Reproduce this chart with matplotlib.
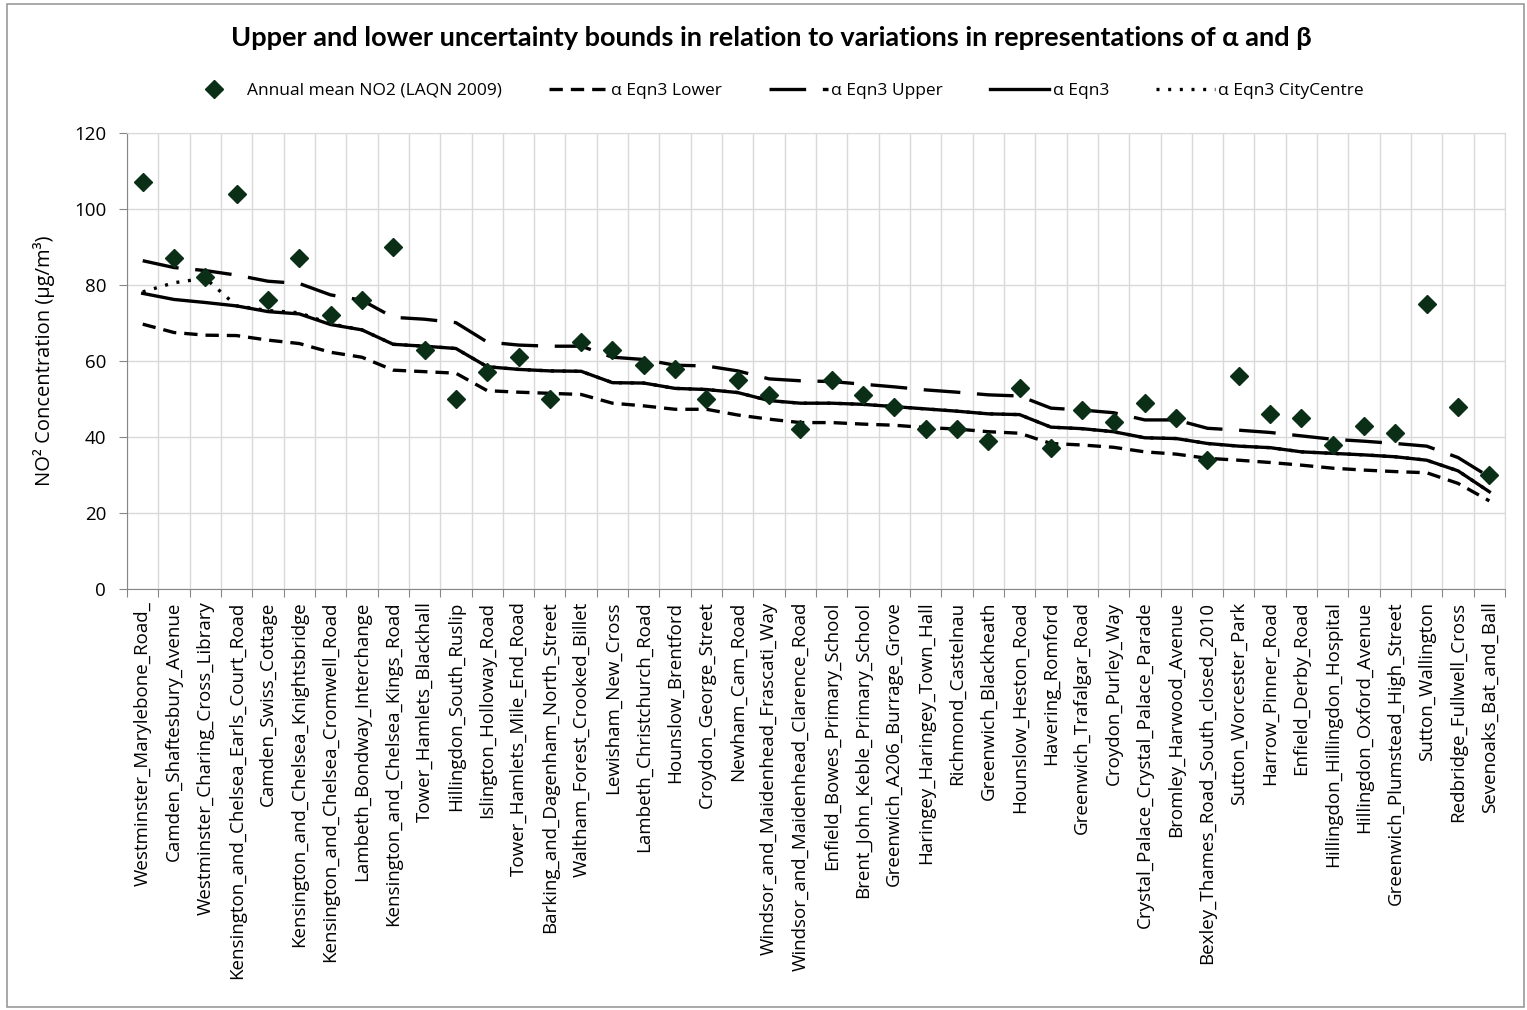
import numpy as np
import matplotlib.pyplot as plt
from matplotlib.patches import Rectangle

sites = [
    "Westminster_Marylebone_Road_", "Camden_Shaftesbury_Avenue",
    "Westminster_Charing_Cross_Library", "Kensington_and_Chelsea_Earls_Court_Road",
    "Camden_Swiss_Cottage", "Kensington_and_Chelsea_Knightsbridge",
    "Kensington_and_Chelsea_Cromwell_Road", "Lambeth_Bondway_Interchange",
    "Kensington_and_Chelsea_Kings_Road", "Tower_Hamlets_Blackhall",
    "Hillingdon_South_Ruslip", "Islington_Holloway_Road",
    "Tower_Hamlets_Mile_End_Road", "Barking_and_Dagenham_North_Street",
    "Waltham_Forest_Crooked_Billet", "Lewisham_New_Cross",
    "Lambeth_Christchurch_Road", "Hounslow_Brentford",
    "Croydon_George_Street", "Newham_Cam_Road",
    "Windsor_and_Maidenhead_Frascati_Way", "Windsor_and_Maidenhead_Clarence_Road",
    "Enfield_Bowes_Primary_School", "Brent_John_Keble_Primary_School",
    "Greenwich_A206_Burrage_Grove", "Haringey_Haringey_Town_Hall",
    "Richmond_Castelnau", "Greenwich_Blackheath",
    "Hounslow_Heston_Road", "Havering_Romford",
    "Greenwich_Trafalgar_Road", "Croydon_Purley_Way",
    "Crystal_Palace_Crystal_Palace_Parade", "Bromley_Harwood_Avenue",
    "Bexley_Thames_Road_South_closed_2010", "Sutton_Worcester_Park",
    "Harrow_Pinner_Road", "Enfield_Derby_Road",
    "Hillingdon_Hillingdon_Hospital", "Hillingdon_Oxford_Avenue",
    "Greenwich_Plumstead_High_Street", "Sutton_Wallington",
    "Redbridge_Fullwell_Cross", "Sevenoaks_Bat_and_Ball",
]

# annual mean NO2 measured at each site (LAQN 2009)
observed = [107, 87, 82, 104, 76, 87, 72, 76, 90, 63, 50, 57, 61, 50, 65, 63,
            59, 58, 50, 55, 51, 42, 55, 51, 48, 42, 42, 39, 53, 37, 47, 44,
            49, 45, 34, 56, 46, 45, 38, 43, 41, 75, 48, 30]

eqn3_lower = [69.7, 67.5, 66.8, 66.7, 65.5, 64.6, 62.3, 61.0, 57.6, 57.2, 56.8,
              52.2, 51.8, 51.5, 51.2, 48.9, 48.2, 47.3, 47.3, 45.8, 44.7, 43.8,
              43.8, 43.4, 43.1, 42.5, 42.1, 41.4, 41.0, 38.3, 37.9, 37.3, 36.1,
              35.5, 34.4, 33.9, 33.3, 32.6, 31.8, 31.3, 30.9, 30.6, 27.8, 23.2]

eqn3_upper = [86.4, 84.6, 83.8, 82.6, 81.0, 80.4, 77.4, 76.0, 71.5, 71.0, 70.1,
              65.0, 64.2, 63.9, 63.9, 61.0, 60.4, 58.9, 58.7, 57.4, 55.3, 54.8,
              54.6, 53.9, 53.2, 52.4, 51.8, 51.1, 50.8, 47.6, 47.1, 46.4, 44.5,
              44.5, 42.3, 41.8, 41.2, 40.3, 39.4, 38.9, 38.3, 37.6, 34.6, 29.5]

eqn3 = [77.8, 76.2, 75.4, 74.5, 73.0, 72.4, 69.6, 68.2, 64.4, 63.9, 63.3,
        58.5, 57.8, 57.4, 57.3, 54.3, 54.2, 52.8, 52.5, 51.7, 49.6, 48.9,
        48.9, 48.6, 48.0, 47.4, 46.8, 46.1, 45.9, 42.6, 42.2, 41.4, 39.8,
        39.6, 38.3, 37.6, 37.2, 36.1, 35.7, 35.3, 34.8, 33.9, 31.1, 25.6]

eqn3_city = [78.2, 80.6, 81.8, 74.5, 73.3, 72.7, 69.8, 68.2, 64.4, 63.9, 63.3,
             58.5, 57.8, 57.4, 57.3, 54.3, 54.2, 52.8, 52.5, 51.7, 49.6, 48.9,
             48.9, 48.6, 48.0, 47.4, 46.8, 46.1, 45.9, 42.6, 42.2, 41.4, 39.8,
             39.6, 38.3, 37.6, 37.2, 36.1, 35.7, 35.3, 34.8, 33.9, 31.1, 25.6]

plt.rcParams['font.family'] = ['Open Sans', 'DejaVu Sans']

fig = plt.figure(figsize=(15.27, 10.10), dpi=100)
ax = fig.add_axes([0.0832, 0.4168, 0.9024, 0.4515])

x = np.arange(len(sites))
lw = 2.4
ax.plot(x, eqn3_lower, color='black', lw=lw, dashes=(4, 2.4), label='α Eqn3 Lower', zorder=3)
ax.plot(x, eqn3_upper, color='black', lw=lw, dashes=(11, 5), label='α Eqn3 Upper', zorder=3)
ax.plot(x, eqn3, color='black', lw=lw, label='α Eqn3', zorder=3)
ax.plot(x, eqn3_city, color='black', lw=lw, dashes=(0.9, 2.6), label='α Eqn3 CityCentre', zorder=3)
ax.plot(x, observed, linestyle='none', marker='D', markersize=9, color='#0b2e17',
        label='Annual mean NO2 (LAQN 2009)', zorder=4)

ax.set_xlim(-0.5, len(sites) - 0.5)
ax.set_ylim(0, 120)
ax.set_yticks(np.arange(0, 121, 20))

# gridlines and tick marks sit on category boundaries, labels on centres
ax.set_xticks(np.arange(len(sites) + 1) - 0.5)
ax.set_xticklabels([])
ax.set_xticks(x, minor=True)
ax.set_xticklabels(sites, minor=True, rotation=90, fontsize=13.5)
ax.tick_params(axis='x', which='minor', length=0, pad=9)
ax.tick_params(axis='x', which='major', length=6, color='#868686')
ax.tick_params(axis='y', length=6, color='#868686', pad=9, labelsize=13.5)

ax.grid(True, which='major', color='#d9d9d9', lw=1)
ax.set_axisbelow(True)
for side in ['top', 'right']:
    ax.spines[side].set_color('#d9d9d9')
for side in ['left', 'bottom']:
    ax.spines[side].set_color('#868686')

ax.set_ylabel('NO² Concentration (µg/m³)', fontsize=14.5, labelpad=14)

fig.text(0.505, 0.962, 'Upper and lower uncertainty bounds in relation to variations in representations of α and β',
         ha='center', va='center', fontsize=19.5, fontweight='bold', family=['Lato', 'DejaVu Sans'])

handles, labels = ax.get_legend_handles_labels()
order = [4, 0, 1, 2, 3]
fig.legend([handles[i] for i in order], [labels[i] for i in order],
           loc='center', bbox_to_anchor=(0.507, 0.91), ncol=5, frameon=False,
           fontsize=12.5, handlelength=3.4, handletextpad=0.2, columnspacing=2.7)

fig.patches.append(Rectangle((7 / 1527, 3 / 1010), 1517 / 1527, 1003 / 1010,
                             transform=fig.transFigure, fill=False,
                             edgecolor='#9a9a9a', lw=1.2))

fig.savefig('out.png', dpi=100, facecolor='white')
